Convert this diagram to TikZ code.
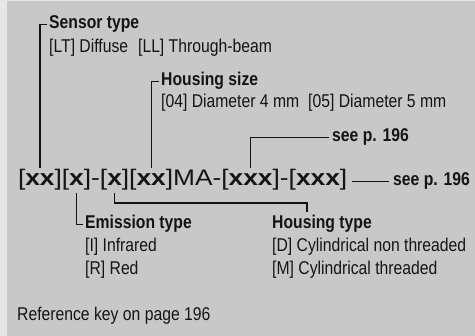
\documentclass[tikz,border=0pt]{standalone}
\usepackage{fontspec}
\setmainfont{Liberation Sans}[FakeStretch=0.85]
\newfontfamily\codefont{Liberation Sans}[FakeStretch=1.17]
\usetikzlibrary{positioning}
\definecolor{panelgray}{RGB}{199,200,199}
\definecolor{pagegray}{RGB}{230,230,230}
\definecolor{inkblack}{RGB}{20,20,20}

\begin{document}
\begin{tikzpicture}[x=1pt, y=-1pt,
    title/.style={font=\fontsize{18.5}{21}\selectfont\bfseries, inner sep=0pt, anchor=base west, text=inkblack},
    desc/.style={font=\fontsize{18.5}{21}\selectfont, inner sep=0pt, anchor=base west, text=inkblack},
    code/.style={font=\codefont\fontsize{22.5}{26}\selectfont, inner xsep=0pt, inner ysep=2pt, outer sep=0pt, anchor=base west, text=inkblack},
    lead/.style={draw=inkblack, line width=1.2pt}
]
    % Background
    \fill[pagegray] (0,0) rectangle (475,336);
    \fill[panelgray] (7,1) rectangle (475,336);
    \useasboundingbox (0,0) rectangle (475,336);

    % Code line
    \node[code] (g1) at (18,186) {[\textbf{xx}]};
    \node[code] (g2) at (g1.base east) {[\textbf{x}]};
    \node[code] (d1) at (g2.base east) {-};
    \node[code] (g3) at (d1.base east) {[\textbf{x}]};
    \node[code] (g4) at (g3.base east) {[\textbf{xx}]};
    \node[code] (ma) at (g4.base east) {MA-};
    \node[code] (g5) at (ma.base east) {[\textbf{xxx}]};
    \node[code] (d2) at (g5.base east) {-};
    \node[code] (g6) at (d2.base east) {[\textbf{xxx}]};

    % Sensor type
    \node[title] (sttitle) at (49,29) {Sensor type};
    \node[desc] (stdesc) at (49,53) {[LT] Diffuse\hspace{10pt}[LL] Through-beam};

    % Housing size
    \node[title] (hstitle) at (161,86) {Housing size};
    \node[desc] (hsdesc) at (161,108) {[04] Diameter 4 mm\hspace{9pt}[05] Diameter 5 mm};

    % See page
    \node[title] (seeup) at (332,142) {see p. 196};
    \node[title] (seeright) at (393,186) {see p. 196};

    % Emission type
    \node[title] (ettitle) at (85,229) {Emission type};
    \node[desc] (etdesc1) at (85,252) {[I] Infrared};
    \node[desc] (etdesc2) at (85,275) {[R] Red};

    % Housing type
    \node[title] (httitle) at (272,229) {Housing type};
    \node[desc] (htdesc1) at (272,252) {[D] Cylindrical non threaded};
    \node[desc] (htdesc2) at (272,275) {[M] Cylindrical threaded};
    \coordinate (htknee) at (307,203);

    % Note
    \node[desc] (refkey) at (17,321) {Reference key on page 196};

    % Leaders
    \draw[lead, shorten >=2pt] (g1.north) |- (sttitle.west);
    \draw[lead, shorten >=2pt] (g4.north) |- (hstitle.west);
    \draw[lead, shorten >=3pt] (g5.north) |- (seeup.west);
    \draw[lead, shorten <=4pt, shorten >=5pt] (seeright.west) -- (seeright.west -| g6.east);
    \draw[lead, shorten >=2pt] (g2.south) |- (ettitle.west);
    \draw[lead, shorten >=3pt] (g3.south) |- (htknee) -- (htknee |- httitle.north);
\end{tikzpicture}
\end{document}
